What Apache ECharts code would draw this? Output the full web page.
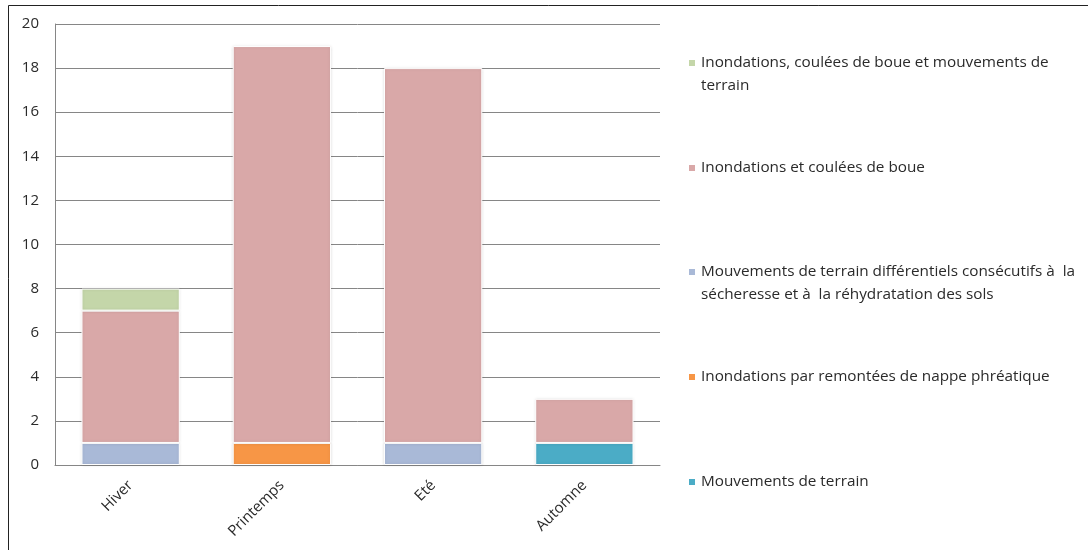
<!DOCTYPE html>
<html><head><meta charset="utf-8">
<script src="https://cdn.jsdelivr.net/npm/echarts@6/dist/echarts.min.js"></script>
<style>html,body{margin:0;padding:0;background:#fff}#c{width:1088px;height:550px}</style>
</head><body><div id="c"></div>
<script>
const categories = ['Hiver', 'Printemps', 'Eté', 'Automne'];
const seriesNames = [
  'Mouvements de terrain',
  'Inondations par remontées de nappe phréatique',
  'Mouvements de terrain différentiels consécutifs à  la sécheresse et à  la réhydratation des sols',
  'Inondations et coulées de boue',
  'Inondations, coulées de boue et mouvements de terrain'
];
const mouvements = [0, 0, 0, 1];
const nappe = [0, 1, 0, 0];
const differentiels = [1, 0, 1, 0];
const coulees = [6, 18, 17, 2];
const couleesMouvements = [1, 0, 0, 0];
const yTicks = { min: 0, max: 20, interval: 2 };
const colors = ['#4bacc6', '#f79646', '#a9b9d7', '#d9a8a8', '#c4d6a9'];

const legendLabels = {};
legendLabels[seriesNames[4]] = 'Inondations, coulées de boue et mouvements de\nterrain';
legendLabels[seriesNames[3]] = 'Inondations et coulées de boue';
legendLabels[seriesNames[2]] = 'Mouvements de terrain différentiels consécutifs à  la\nsécheresse et à  la réhydratation des sols';
legendLabels[seriesNames[1]] = 'Inondations par remontées de nappe phréatique';
legendLabels[seriesNames[0]] = 'Mouvements de terrain';

const dataSets = [mouvements, nappe, differentiels, coulees, couleesMouvements];
const font = 'Open Sans';
const LH = 23;
const legendCenters = [482, 377, 272, 168, 63]; // by series index
const legends = seriesNames.map((n, i) => {
  const two = legendLabels[n].indexOf('\n') >= 0;
  return {
    data: [n], left: 687, top: two ? legendCenters[i] - 1.5 * LH : legendCenters[i] - LH / 2,
    padding: 0, orient: 'vertical', icon: 'rect', itemWidth: 8, itemHeight: 8,
    formatter: name => (two ? ' \n' : '') + legendLabels[name], selectedMode: false,
    textStyle: { fontFamily: font, fontSize: 15.3, color: '#2a2a2a', lineHeight: LH }
  };
});

const chart = echarts.init(document.getElementById('c'));
chart.setOption({
  animation: false,
  color: colors,
  textStyle: { fontFamily: font },
  graphic: [{ type: 'rect', shape: { x: 8.5, y: 5.5, width: 1100, height: 600 }, style: { fill: 'none', stroke: '#222', lineWidth: 1 }, silent: true }],
  legend: legends,
  grid: { left: 55, right: 428, top: 24, bottom: 85, containLabel: false },
  xAxis: {
    type: 'category', data: categories,
    axisLine: { lineStyle: { color: '#868686' } }, axisTick: { show: false },
    axisLabel: { rotate: 45, fontFamily: font, fontSize: 15, color: '#2a2a2a', margin: 18 }
  },
  yAxis: {
    type: 'value', min: yTicks.min, max: yTicks.max, interval: yTicks.interval,
    axisLine: { show: true, lineStyle: { color: '#868686' } }, axisTick: { show: false },
    axisLabel: { fontFamily: font, fontSize: 15, color: '#2a2a2a', margin: 16 },
    splitLine: { lineStyle: { color: '#868686', width: 1 } }
  },
  series: seriesNames.map((n, i) => ({
    name: n, type: 'bar', stack: 'total', barWidth: '65%',
    data: dataSets[i].map(v => v === 0 ? '-' : v),
    itemStyle: { color: colors[i], borderColor: '#ffffff', borderWidth: 1, shadowColor: 'rgba(0,0,0,0.12)', shadowBlur: 3 }
  }))
});
</script></body></html>
